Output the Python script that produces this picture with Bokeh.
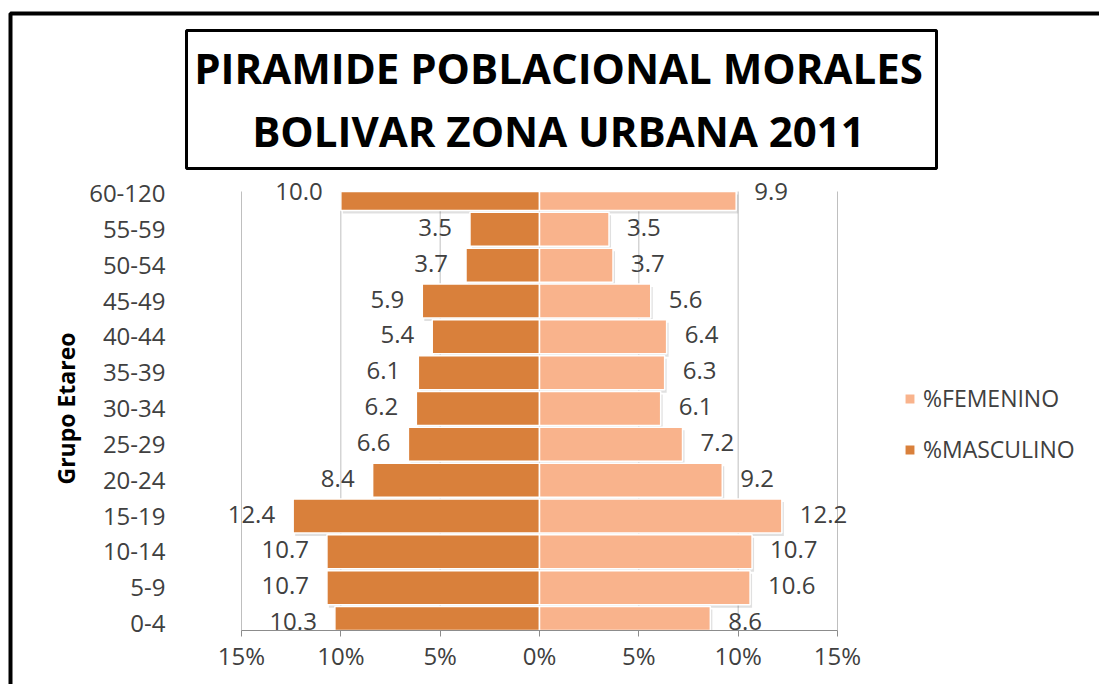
import numpy as np
from bokeh.plotting import figure
from bokeh.models import (ColumnDataSource, Range1d, FixedTicker, CustomJSTickFormatter,
                          LabelSet, Label, BoxAnnotation, Legend, LegendItem)
from bokeh.core.properties import value
from bokeh.embed import file_html
from bokeh.resources import INLINE

categories = ["0-4", "5-9", "10-14", "15-19", "20-24", "25-29", "30-34",
              "35-39", "40-44", "45-49", "50-54", "55-59", "60-120"]
masculino = [10.3, 10.7, 10.7, 12.4, 8.4, 6.6, 6.2, 6.1, 5.4, 5.9, 3.7, 3.5, 10.0]
femenino = [8.6, 10.6, 10.7, 12.2, 9.2, 7.2, 6.1, 6.3, 6.4, 5.6, 3.7, 3.5, 9.9]
x_ticks = [-15, -10, -5, 0, 5, 10, 15]
title_lines = ["PIRAMIDE POBLACIONAL MORALES", "BOLIVAR ZONA URBANA 2011"]

FONT = "Open Sans"
MALE_C = "#D9803B"
FEM_C = "#F9B38C"
TXT_C = "#404040"

# canvas = frame; map the plot box (-15..15, 0..12) onto the picture
W, H = 1099, 684
SX = (837 - 241) / 30.0
SY = (623 - 193) / 12.0
X0 = -15 - 241 / SX
X1 = 15 + (W - 837) / SX
Y0 = 0 - (H - 623) / SY
Y1 = 12 + 193 / SY


def px_x(px):
    return X0 + px / SX


def px_y(py):
    return Y1 - py / SY


AX_Y = px_y(630)      # position of the category axis baseline
TOP_Y = px_y(191)     # top of the plot box

ypos = np.arange(len(categories))
bh = 0.95
bottom = np.clip(ypos - bh / 2, AX_Y, TOP_Y)
top = np.clip(ypos + bh / 2, AX_Y, TOP_Y)
m_left = -np.array(masculino)
f_right = np.array(femenino)
dx, dy = 2 / SX, 3 / SY

src = ColumnDataSource(dict(
    y=ypos, bottom=bottom, top=top, m_left=m_left, f_right=f_right,
    s_bottom=np.clip(bottom - dy, AX_Y, TOP_Y), s_top=np.clip(top - dy, AX_Y, TOP_Y),
    sm_left=m_left + dx, sf_right=f_right + dx,
    m_lab=["%.1f" % v for v in masculino],
    f_lab=["%.1f" % v for v in femenino],
))

p = figure(width=W, height=H, output_backend="svg", toolbar_location=None,
           x_range=Range1d(X0, X1), y_range=Range1d(Y0, Y1),
           min_border=0, min_border_left=0, min_border_right=0,
           min_border_top=0, min_border_bottom=0)
p.outline_line_color = None
p.background_fill_color = "white"
p.border_fill_color = "white"
p.xgrid.grid_line_color = None
p.ygrid.grid_line_color = None

# vertical gridlines limited to the plot box
p.segment(x0=x_ticks, x1=x_ticks, y0=[AX_Y] * len(x_ticks), y1=[TOP_Y] * len(x_ticks),
          line_color="#BFBFBF", line_width=1)

# subtle bar shadows
shadow = dict(fill_color="#000000", fill_alpha=0.12, line_color=None)
p.quad(left="sm_left", right=dx, bottom="s_bottom", top="s_top", source=src, **shadow)
p.quad(left=dx, right="sf_right", bottom="s_bottom", top="s_top", source=src, **shadow)

mr = p.quad(left="m_left", right=0, bottom="bottom", top="top", source=src,
            fill_color=MALE_C, line_color="white", line_width=1.5)
fr = p.quad(left=0, right="f_right", bottom="bottom", top="top", source=src,
            fill_color=FEM_C, line_color="white", line_width=1.5)

# axes (fixed inside the canvas-sized frame)
xa = p.xaxis[0]
xa.fixed_location = AX_Y
xa.bounds = (-15, 15)
xa.ticker = FixedTicker(ticks=x_ticks)
xa.formatter = CustomJSTickFormatter(code="return Math.abs(tick) + '%';")
xa.axis_line_color = "#8C8C8C"
xa.major_tick_line_color = "#8C8C8C"
xa.major_tick_out = 6
xa.major_tick_in = 0
xa.minor_tick_line_color = None
xa.major_label_text_font = FONT
xa.major_label_text_font_size = "24px"
xa.major_label_text_color = TXT_C
xa.major_label_standoff = 2

ya = p.yaxis[0]
ya.fixed_location = -15
ya.bounds = (0, 12)
ya.ticker = FixedTicker(ticks=list(ypos))
ya.major_label_overrides = {int(i): c for i, c in zip(ypos, categories)}
ya.axis_line_color = None
ya.major_tick_line_color = None
ya.minor_tick_line_color = None
ya.major_tick_out = 0
ya.major_tick_in = 0
ya.major_label_standoff = 76
ya.major_label_text_font = FONT
ya.major_label_text_font_size = "24px"
ya.major_label_text_color = TXT_C
ya.axis_label = "Grupo Etareo"
ya.axis_label_text_font = FONT
ya.axis_label_text_font_style = "bold"
ya.axis_label_text_font_size = "23px"
ya.axis_label_text_color = "black"
ya.axis_label_standoff = 4

# data labels
p.add_layout(LabelSet(x="m_left", y="y", text="m_lab", source=src, x_offset=-18, y_offset=2,
                      text_align="right", text_baseline="middle", text_font=value(FONT),
                      text_font_size="24px", text_color=TXT_C))
p.add_layout(LabelSet(x="f_right", y="y", text="f_lab", source=src, x_offset=18, y_offset=2,
                      text_align="left", text_baseline="middle", text_font=value(FONT),
                      text_font_size="24px", text_color=TXT_C))

# legend
leg = Legend(items=[LegendItem(label="%FEMENINO", renderers=[fr]),
                    LegendItem(label="%MASCULINO", renderers=[mr])],
             location=(903, 219), orientation="vertical")
leg.label_text_font = FONT
leg.label_text_font_size = "23px"
leg.label_text_color = TXT_C
leg.glyph_width = 13
leg.glyph_height = 13
leg.label_height = 26
leg.spacing = 19
leg.label_standoff = 7
leg.padding = 0
leg.margin = 0
leg.border_line_color = None
leg.background_fill_alpha = 0
p.add_layout(leg, "center")

# outer frame and title box
p.add_layout(BoxAnnotation(left=px_x(10), right=px_x(1400), top=px_y(13), bottom=px_y(1000),
                           fill_alpha=0, line_color="black", line_alpha=1, line_width=4))
p.add_layout(BoxAnnotation(left=px_x(186), right=px_x(936), top=px_y(30), bottom=px_y(168),
                           fill_alpha=0, line_color="black", line_alpha=1, line_width=3))

for txt, py in zip(title_lines, [67, 130]):
    p.add_layout(Label(x=px_x(558), y=px_y(py), text=txt,
                       text_align="center", text_baseline="middle",
                       text_font=FONT, text_font_style="bold",
                       text_font_size="42px", text_color="black"))

open("out.html", "w").write(file_html(p, INLINE))
